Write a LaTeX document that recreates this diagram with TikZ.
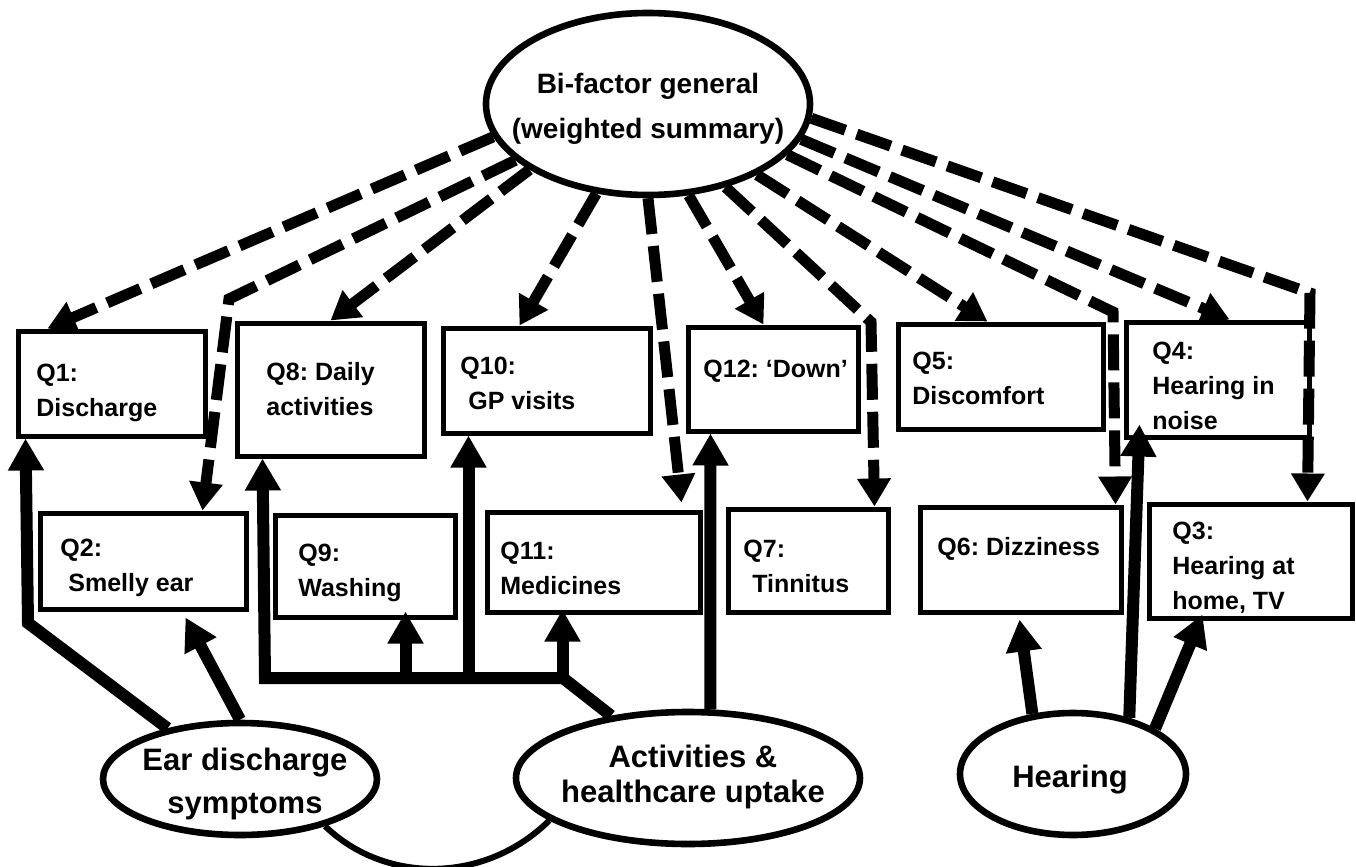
\documentclass[tikz,border=0pt]{standalone}
\usepackage{fontspec}
\setmainfont{Liberation Sans}
\frenchspacing
\usetikzlibrary{arrows.meta,shapes.geometric,fit,calc}

\begin{document}
\begin{tikzpicture}[x=0.5pt,y=-0.5pt,
    qbox/.style={draw,line width=2.5pt,inner sep=0pt},
    qtext/.style={anchor=north west,align=left,inner sep=0pt,font=\bfseries\fontsize{12.5}{17.5}\selectfont},
    factor/.style={draw,ellipse,line width=3.3pt,inner sep=0pt},
    ftext/.style={anchor=north,align=center,inner sep=0pt,font=\bfseries\fontsize{15.5}{21.5}\selectfont},
    sload/.style={line width=6pt,-{Triangle[length=16pt,width=17pt]}},
    gload/.style={line width=5.5pt,dash pattern=on 18pt off 6pt,-{Triangle[length=14pt,width=16pt]}}]
    \useasboundingbox (0,0) rectangle (1356,867);

    % items, top row
    \node[qbox,fit={(18,331) (205,436)}] (q1) {};
    \node[qtext] (q1t) at (36,364) {Q1:\\Discharge};
    \node[qbox,fit={(237,323) (424,456)}] (q8) {};
    \node[qtext] (q8t) at (266,362) {Q8: Daily\\activities};
    \node[qbox,fit={(443,328) (650,433)}] (q10) {};
    \node[qtext] (q10t) at (460,357) {Q10:\\\hspace{4pt}GP visits};
    \node[qbox,fit={(688,327) (858,431)}] (q12) {};
    \node[qtext] (q12t) at (703,360) {Q12: ‘Down’};
    \node[qbox,fit={(898,324) (1103,429)}] (q5) {};
    \node[qtext] (q5t) at (912,352) {Q5:\\Discomfort};
    \node[qbox,fit={(1126,322) (1309,437)}] (q4) {};
    \node[qtext] (q4t) at (1152,342) {Q4:\\Hearing in\\noise};

    % items, bottom row
    \node[qbox,fit={(40,513) (246,609)}] (q2) {};
    \node[qtext] (q2t) at (60,539) {Q2:\\\hspace{4pt}Smelly ear};
    \node[qbox,fit={(275,515) (455,617)}] (q9) {};
    \node[qtext] (q9t) at (298,544) {Q9:\\Washing};
    \node[qbox,fit={(487,512) (700,612)}] (q11) {};
    \node[qtext] (q11t) at (500,542) {Q11:\\Medicines};
    \node[qbox,fit={(728,509) (888,612)}] (q7) {};
    \node[qtext] (q7t) at (743,540) {Q7:\\\hspace{4.5pt}Tinnitus};
    \node[qbox,fit={(920,507) (1121,612)}] (q6) {};
    \node[qtext] (q6t) at (937,537) {Q6: Dizziness};
    \node[qbox,fit={(1149,504) (1352,618)}] (q3) {};
    \node[qtext] (q3t) at (1172,522) {Q3:\\Hearing at\\home, TV};

    % factors
    \node[factor,minimum width=162pt,minimum height=91pt] (gen) at (648,104) {};
    \node[ftext,font=\bfseries\fontsize{14}{22.5}\selectfont] (gent) at (648,73) {Bi-factor general\\(weighted summary)};
    \node[factor,minimum width=137pt,minimum height=56pt] (ear) at (240,779) {};
    \node[ftext] (eart) at (245,748) {Ear discharge\\symptoms};
    \node[factor,minimum width=172pt,minimum height=66pt] (act) at (688,778) {};
    \node[ftext,font=\bfseries\fontsize{15.5}{17.5}\selectfont] (actt) at (693,745) {Activities \&\\healthcare uptake};
    \node[factor,minimum width=113pt,minimum height=61pt] (hear) at (1073,774) {};
    \node[ftext,anchor=base] (heart) at (1070,787) {Hearing};

    % general factor loadings
    \draw[gload] (gen.192) -- ($(q1.north west)+(32,0)$);
    \draw[gload] (gen.203) -- (229,299) -- ($(q2.north west)+(165,0)$);
    \draw[gload] (gen.209) -- ($(q8.north west)+(96,0)$);
    \draw[gload] (gen.240) -- ($(q10.north west)+(79,0)$);
    \draw[gload] (gen.270) -- ($(q11.north east)+(-21,-7)$);
    \draw[gload] (gen.294) -- ($(q12.north west)+(78,0)$);
    \draw[gload] (gen.313) -- (871,322) -- ($(q7.north west)+(149,0)$);
    \draw[gload] (gen.327) -- ($(q5.north west)+(92,0)$);
    \draw[gload] (gen.340) -- (1113,312) -- ($(q6.north east)+(-8,0)$);
    \draw[gload] (gen.347) -- ($(q4.north west)+(106,0)$);
    \draw[gload] (gen.355) -- (1310,293) -- ($(q3.north west)+(161,0)$);

    % specific factor loadings
    \draw[sload] (ear.145) -- (28,623) -- ($(q1.south west)+(10,0)$);
    \draw[sload] (ear.90) -- ($(q2.south west)+(148,6)$);
    \coordinate (jn) at (563,678);
    \draw[sload] (act.141) -- (jn) -- (265,678) -- ($(q8.south west)+(28,0)$);
    \coordinate (q9in) at ($(q9.south west)+(133,-8)$);
    \coordinate (q10in) at ($(q10.south west)+(28,0)$);
    \coordinate (q11in) at ($(q11.south west)+(78,-5)$);
    \draw[sload] (q9in |- jn) -- (q9in);
    \draw[sload] (q10in |- jn) -- (q10in);
    \draw[sload] (q11in |- jn) -- (q11in);
    \draw[sload] (act.72) -- ($(q12.south west)+(25,0)$);
    \draw[sload] (hear.124) -- ($(q6.south west)+(102,5)$);
    \draw[sload] (hear.45) -- ($(q4.south west)+(16,-15)$);
    \draw[sload] (hear.29) -- ($(q3.south west)+(56,-6)$);

    % covariance
    \draw[line width=3pt] (ear.331) .. controls (385,884) and (485,884) .. (act.197);
\end{tikzpicture}
\end{document}
